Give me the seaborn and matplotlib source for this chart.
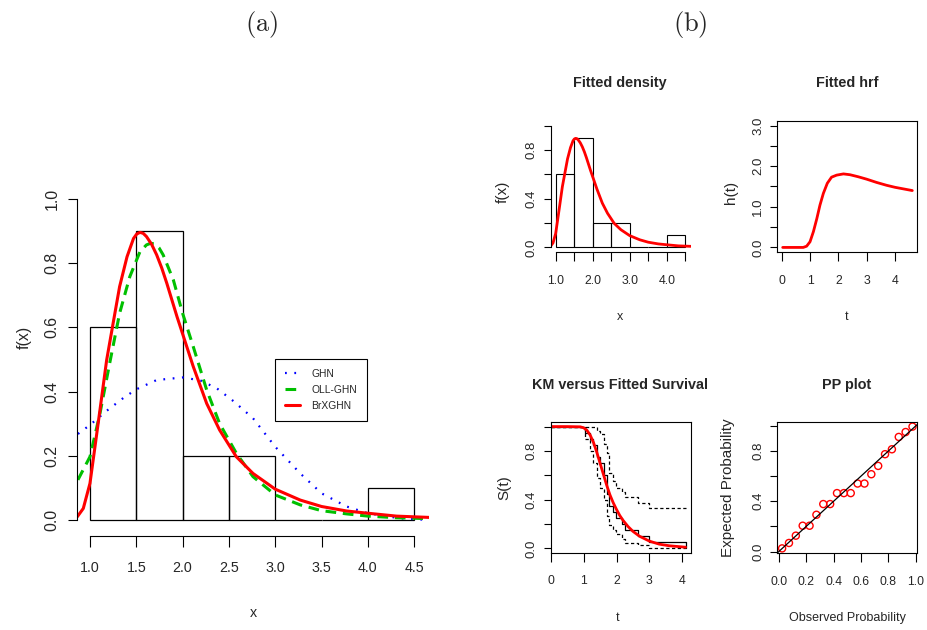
import numpy as np
import pandas as pd
import seaborn as sns
import matplotlib
matplotlib.use('Agg')
import matplotlib.pyplot as plt

sns.set_style('ticks')
plt.rcParams['font.family'] = ['Liberation Sans', 'DejaVu Sans']
plt.rcParams['mathtext.fontset'] = 'cm'

NARROW = ['Liberation Sans Narrow', 'Liberation Sans', 'DejaVu Sans']
REG = ['Liberation Sans', 'DejaVu Sans']

# ---- 数据 ----
hist_breaks = [1.0, 1.5, 2.0, 2.5, 3.0, 3.5, 4.0, 4.5]
hist_dens = [0.6, 0.9, 0.2, 0.2, 0.0, 0.0, 0.1]

br_x = [0.863, 0.928, 1.0, 1.054, 1.108, 1.18, 1.25, 1.32, 1.40, 1.47, 1.505, 1.54,
        1.575, 1.61, 1.665, 1.72, 1.775, 1.83, 1.94, 2.0, 2.115, 2.26, 2.40, 2.58,
        2.76, 3.0, 3.27, 3.5, 3.77, 4.0, 4.31, 4.66]
br_f = [0.01, 0.036, 0.114, 0.228, 0.343, 0.498, 0.613, 0.727, 0.82, 0.877, 0.891,
        0.896, 0.893, 0.883, 0.859, 0.826, 0.785, 0.737, 0.633, 0.58, 0.478, 0.363,
        0.28, 0.197, 0.145, 0.096, 0.062, 0.042, 0.028, 0.021, 0.012, 0.008]

oll_x = [0.87, 1.0, 1.108, 1.216, 1.32, 1.43, 1.54, 1.61, 1.655, 1.70, 1.745, 1.79,
         1.9, 2.0, 2.115, 2.26, 2.40, 2.58, 2.76, 3.0, 3.27, 3.5, 3.77, 4.0, 4.31,
         4.66]
oll_f = [0.125, 0.197, 0.332, 0.493, 0.644, 0.758, 0.836, 0.857, 0.862, 0.86,
         0.848, 0.826, 0.748, 0.644, 0.54, 0.405, 0.30, 0.208, 0.135, 0.078,
         0.047, 0.029, 0.019, 0.012, 0.007, 0.004]

ghn_x = [0.87, 1.0, 1.18, 1.36, 1.5, 1.72, 2.0, 2.19, 2.37, 2.55, 2.76, 3.0, 3.27,
         3.5, 3.77, 4.0, 4.35, 4.66]
ghn_f = [0.268, 0.296, 0.34, 0.38, 0.407, 0.436, 0.444, 0.435, 0.41, 0.37, 0.317,
         0.228, 0.145, 0.083, 0.042, 0.021, 0.005, 0.0]

hrf_t = [0.035, 0.5, 0.76, 0.88, 1.0, 1.12, 1.24, 1.35, 1.47, 1.61, 1.76, 1.94,
         2.18, 2.41, 2.7, 3.0, 3.35, 3.7, 4.0, 4.61]
hrf_h = [0.0, 0.0, 0.0, 0.03, 0.14, 0.39, 0.71, 1.04, 1.33, 1.58, 1.73, 1.78,
         1.81, 1.79, 1.74, 1.68, 1.60, 1.53, 1.48, 1.40]

surv_t = [0.0, 0.5, 0.9, 1.0, 1.1, 1.2, 1.3, 1.4, 1.5, 1.6, 1.7, 1.8, 1.9, 2.0,
          2.1, 2.2, 2.35, 2.5, 2.7, 3.0, 3.3, 3.6, 4.1]
surv_s = [1.0, 1.0, 0.998, 0.99, 0.97, 0.93, 0.87, 0.79, 0.70, 0.61, 0.52, 0.44,
          0.375, 0.32, 0.27, 0.23, 0.18, 0.14, 0.10, 0.06, 0.035, 0.022, 0.01]

km_t = [0.0, 1.05, 1.18, 1.29, 1.40, 1.50, 1.61, 1.70, 1.77, 1.89, 1.99, 2.16,
        2.27, 2.65, 3.0, 4.1]
km_s = [1.0, 0.95, 0.90, 0.85, 0.75, 0.70, 0.60, 0.45, 0.35, 0.30, 0.25, 0.20,
        0.15, 0.10, 0.05, 0.0]
km_up = [1.0, 1.0, 1.0, 1.0, 0.96, 0.94, 0.86, 0.78, 0.62, 0.55, 0.50, 0.46,
         0.425, 0.375, 0.334, 0.334]
km_lo = [1.0, 0.9, 0.8, 0.7, 0.58, 0.5, 0.4, 0.27, 0.19, 0.15, 0.115, 0.074,
         0.047, 0.025, 0.006, 0.006]

pp_obs = [0.025, 0.075, 0.125, 0.175, 0.225, 0.275, 0.325, 0.375, 0.425, 0.475,
          0.525, 0.575, 0.625, 0.675, 0.725, 0.775, 0.825, 0.875, 0.925, 0.975]
pp_exp = [0.026, 0.069, 0.127, 0.206, 0.206, 0.293, 0.378, 0.378, 0.465, 0.465,
          0.465, 0.541, 0.541, 0.615, 0.681, 0.774, 0.813, 0.911, 0.95, 0.993]

# ---- 画布 ----
W, H = 927, 630
fig = plt.figure(figsize=(W / 100, H / 100), dpi=100)


def rect(l, r, t, b):
    return [l / W, 1 - b / H, (r - l) / W, (b - t) / H]


def ftext(x, y, s, **kw):
    fig.text(x / W, 1 - y / H, s, ha='center', va='center', **kw)


def style_axes(ax, box, xlen, ylen, xpad, ypad):
    for sp in ax.spines.values():
        sp.set_linewidth(0.8)
        sp.set_color('black')
    if not box:
        ax.spines['top'].set_visible(False)
        ax.spines['right'].set_visible(False)
    ax.tick_params(axis='x', length=xlen, width=0.8, pad=xpad, direction='out',
                   color='black')
    ax.tick_params(axis='y', length=ylen, width=0.8, pad=ypad, direction='out',
                   color='black')
    ax.set_xlabel('')
    ax.set_ylabel('')
    ax.grid(False)


def draw_hist(ax, lw):
    mids = [(a + b) / 2 for a, b in zip(hist_breaks[:-1], hist_breaks[1:])]
    sns.histplot(x=mids, weights=hist_dens, bins=hist_breaks, stat='count',
                 fill=False, color='black', linewidth=lw, ax=ax)


# 横排文字字号 (原图文字横向被压窄, 这里折中取小一点)
XT_BIG = 10.3
XT_SMALL = 8.8
TITLE = 10.4
XLAB = 9.0

# ---- (a) 左图 ----
ax = fig.add_axes(rect(77, 429, 199, 535.7))
draw_hist(ax, 0.9)
sns.lineplot(x=ghn_x, y=ghn_f, color='#0000FF', linewidth=1.6,
             linestyle=(0, (0.8, 3.4)), label='GHN', ax=ax)
sns.lineplot(x=oll_x, y=oll_f, color='#00C000', linewidth=2.2,
             linestyle=(0, (3.5, 2.2)), label='OLL-GHN', ax=ax)
sns.lineplot(x=br_x, y=br_f, color='#FF0000', linewidth=2.2, label='BrXGHN', ax=ax)
ax.set_xlim(0.86, 4.66)
ax.set_ylim(-0.049, 1.0)
style_axes(ax, False, 7.9, 6.5, 10.5, 6.0)
ax.spines['left'].set_bounds(0, 1)
ax.spines['bottom'].set_bounds(1.0, 4.5)
xt = [1.0, 1.5, 2.0, 2.5, 3.0, 3.5, 4.0, 4.5]
ax.set_xticks(xt, [f'{v:.1f}' for v in xt], fontfamily=NARROW, fontsize=XT_BIG)
yt = [0.0, 0.2, 0.4, 0.6, 0.8, 1.0]
ax.set_yticks(yt, [f'{v:.1f}' for v in yt], fontfamily=REG, fontsize=11.4,
              rotation=90, va='center')
h, l = ax.get_legend_handles_labels()
leg = ax.legend(h, l, loc='upper left', bbox_to_anchor=(0.5625, 0.5248),
                borderaxespad=0, frameon=True, fancybox=False, framealpha=1,
                edgecolor='black', handlelength=1.5, handletextpad=1.1,
                labelspacing=0.6, borderpad=0.95,
                prop={'family': NARROW, 'size': 7.4})
leg.get_frame().set_linewidth(0.8)
ftext(253, 613, 'x', fontfamily=NARROW, fontsize=XT_BIG)
ftext(24, 337, 'f(x)', fontfamily=REG, fontsize=11.4, rotation=90)

ftext(262, 25, r'$\mathrm{(a)}$', fontsize=19)
ftext(690, 25, r'$\mathrm{(b)}$', fontsize=19)

# ---- (b) 拟合密度 ----
ax = fig.add_axes(rect(550.5, 691.2, 125.7, 252.3))
draw_hist(ax, 0.8)
sns.lineplot(x=br_x, y=br_f, color='#FF0000', linewidth=2.0, ax=ax)
ax.set_xlim(0.86, 4.66)
ax.set_ylim(-0.041, 1.0)
style_axes(ax, False, 6.7, 5.3, 9.5, 4.0)
ax.spines['left'].set_bounds(0, 1)
ax.spines['bottom'].set_bounds(1.0, 4.5)
ax.set_xticks(xt, ['1.0', '', '2.0', '', '3.0', '', '4.0', ''],
              fontfamily=NARROW, fontsize=XT_SMALL)
ax.set_yticks(yt, ['0.0', '', '0.4', '', '0.8', ''], fontfamily=REG,
              fontsize=9.5, rotation=90, va='center')
ftext(620, 83, 'Fitted density', fontfamily=NARROW, fontsize=TITLE,
      fontweight='bold')
ftext(620, 317, 'x', fontfamily=NARROW, fontsize=XLAB)
ftext(503, 192, 'f(x)', fontfamily=REG, fontsize=11, rotation=90)

# ---- 风险函数 ----
ax = fig.add_axes(rect(777.3, 917.3, 120.7, 252.3))
sns.lineplot(x=hrf_t, y=hrf_h, color='#FF0000', linewidth=2.0, ax=ax)
ax.set_xlim(-0.155, 4.786)
ax.set_ylim(-0.12, 3.12)
style_axes(ax, True, 6.7, 5.3, 9.5, 4.0)
ax.set_xticks([0, 1, 2, 3, 4], ['0', '1', '2', '3', '4'], fontfamily=NARROW,
              fontsize=XT_SMALL)
ht = [0.0, 0.5, 1.0, 1.5, 2.0, 2.5, 3.0]
ax.set_yticks(ht, ['0.0', '', '1.0', '', '2.0', '', '3.0'], fontfamily=REG,
              fontsize=9.5, rotation=90, va='center')
ftext(847, 83, 'Fitted hrf', fontfamily=NARROW, fontsize=TITLE, fontweight='bold')
ftext(847, 317, 't', fontfamily=NARROW, fontsize=XLAB)
ftext(731, 192, 'h(t)', fontfamily=REG, fontsize=11, rotation=90)

# ---- KM 与拟合生存函数 ----
ax = fig.add_axes(rect(550.7, 690.7, 421.7, 552.7))
sns.lineplot(x=km_t, y=km_s, color='black', linewidth=0.9,
             drawstyle='steps-post', ax=ax)
sns.lineplot(x=km_t, y=km_up, color='black', linewidth=0.9,
             linestyle=(0, (2.6, 2.0)), drawstyle='steps-post', ax=ax)
sns.lineplot(x=km_t, y=km_lo, color='black', linewidth=0.9,
             linestyle=(0, (2.6, 2.0)), drawstyle='steps-post', ax=ax)
sns.lineplot(x=surv_t, y=surv_s, color='#FF0000', linewidth=2.0, ax=ax)
ax.set_xlim(0, 4.255)
ax.set_ylim(-0.035, 1.04)
style_axes(ax, True, 6.7, 5.3, 9.5, 4.0)
ax.set_xticks([0, 1, 2, 3, 4], ['0', '1', '2', '3', '4'], fontfamily=NARROW,
              fontsize=XT_SMALL)
ax.set_yticks(yt, ['0.0', '', '0.4', '', '0.8', ''], fontfamily=REG,
              fontsize=9.5, rotation=90, va='center')
ftext(620, 385, 'KM versus Fitted Survival', fontfamily=NARROW, fontsize=TITLE,
      fontweight='bold')
ftext(618, 618, 't', fontfamily=NARROW, fontsize=XLAB)
ftext(504, 488, 'S(t)', fontfamily=REG, fontsize=11, rotation=90)

# ---- PP 图 ----
ax = fig.add_axes(rect(777.3, 917.3, 421.7, 553.3))
ax.axline((0, 0), slope=1, color='black', linewidth=0.9)
sns.scatterplot(x=pp_obs, y=pp_exp, s=26, facecolor='none', edgecolor='#FF0000',
                linewidth=1.0, ax=ax)
ax.set_xlim(-0.01, 1.01)
ax.set_ylim(-0.013, 1.032)
style_axes(ax, True, 6.7, 5.3, 9.5, 4.0)
pt = [0.0, 0.2, 0.4, 0.6, 0.8, 1.0]
ax.set_xticks(pt, [f'{v:.1f}' for v in pt], fontfamily=NARROW, fontsize=XT_SMALL)
ax.set_yticks(pt, ['0.0', '', '0.4', '', '0.8', ''], fontfamily=REG,
              fontsize=9.5, rotation=90, va='center')
ftext(847, 385, 'PP plot', fontfamily=NARROW, fontsize=TITLE, fontweight='bold')
ftext(847, 618, 'Observed Probability', fontfamily=NARROW, fontsize=XLAB)
ftext(728, 488, 'Expected Probability', fontfamily=REG, fontsize=11, rotation=90)

fig.savefig('out.png', dpi=100)
